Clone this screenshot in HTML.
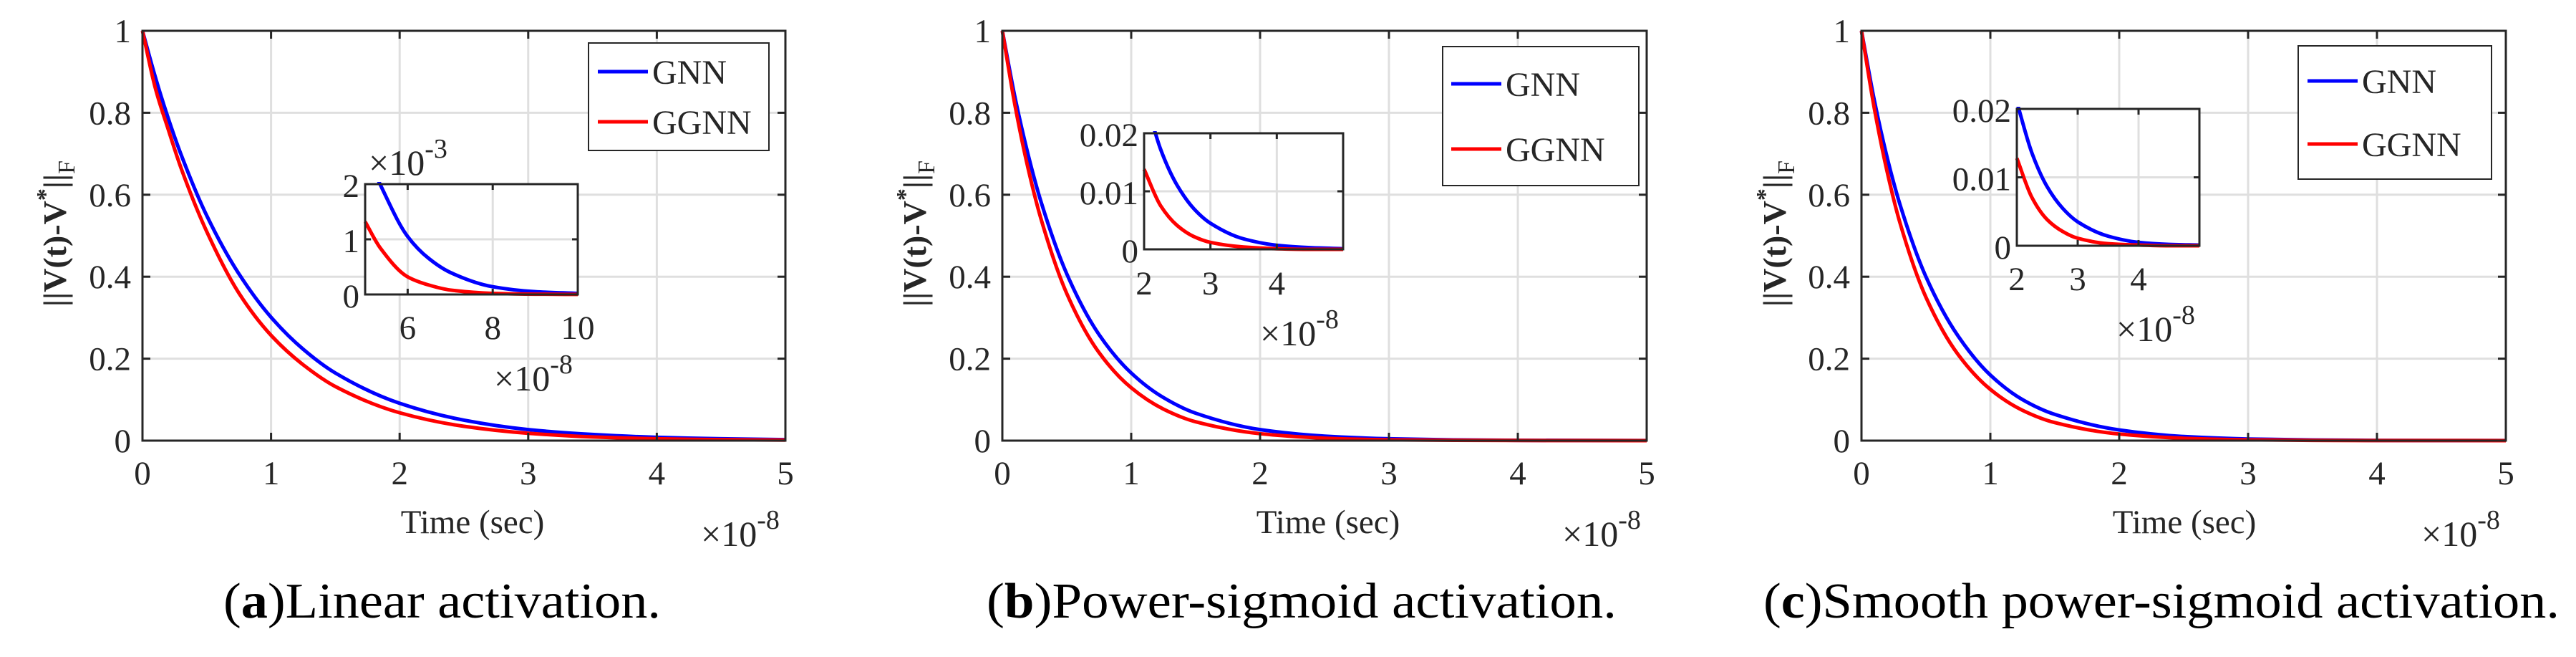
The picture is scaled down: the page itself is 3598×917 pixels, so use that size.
<!DOCTYPE html>
<html><head><meta charset="utf-8"><style>
html,body{margin:0;padding:0;background:#fff;}
svg{display:block;}
text{font-family:"Liberation Serif",serif;fill:#262626;}
</style></head><body>
<svg id="fig" width="3598" height="917" viewBox="0 0 3598 917" xmlns="http://www.w3.org/2000/svg"></svg>
<script>
// ---- data ----
const mainTimes = [0,0.1,0.2,0.3,0.5,0.75,1,1.25,1.5,2,2.5,3,3.5,4,4.5,5];
const aGNN  = [1,.887,.787,.698,.549,.407,.301,.223,.165,.091,.050,.027,.015,.008,.0045,.0025];
const aGGNN = [1,.86,.76,.665,.51,.36,.257,.185,.132,.068,.035,.018,.009,.0046,.0024,.0012];
const bGNN  = [1,.835,.698,.583,.407,.259,.165,.105,.067,.027,.011,.0045,.0018,.0007,.0003,.0001];
const bGGNN = [1,.815,.664,.541,.359,.215,.129,.077,.046,.017,.006,.002,.0008,.0003,.0001,0];
const cGNN  = [1,.83,.69,.575,.40,.255,.16,.10,.064,.026,.010,.004,.0016,.0006,.0002,.0001];
const cGGNN = [1,.81,.655,.53,.35,.21,.125,.074,.044,.016,.0058,.002,.0007,.0002,.0001,0];
const insetATimes = [5,5.35,6,6.5,7,8,9,10];
const insetAGNN  = [2.6,2.0,1.05,0.65,0.40,0.14,0.05,0.02];
const insetAGGNN = [1.32,0.85,0.32,0.17,0.08,0.02,0.005,0.001];
const insetBTimes = [2,2.25,2.5,2.75,3,3.5,4,4.5,5];
const insetBGNN  = [0.027,0.0172,0.011,0.007,0.0045,0.0018,0.0007,0.0003,0.0001];
const insetBGGNN = [0.0138,0.0075,0.0041,0.0022,0.0012,0.0004,0.0001,0,0];
const insetCGNN  = [0.021,0.0135,0.0086,0.0055,0.0035,0.0014,0.0005,0.0002,0.0001];
const insetCGGNN = [0.0128,0.0070,0.0038,0.0021,0.0011,0.0003,0.0001,0,0];
const mainXTicks = [0,1,2,3,4,5];
const mainYTicks = [0,0.2,0.4,0.6,0.8,1];
const mainYLabels = ['0','0.2','0.4','0.6','0.8','1'];
const insetAXTicks = [6,8,10];
const insetAYTicks = [0,1,2];
const insetBXTicks = [2,3,4];
const insetBYTicks = [0,0.01,0.02];
const insetBYLabels = ['0','0.01','0.02'];
const captions = ['Linear activation.','Power-sigmoid activation.','Smooth power-sigmoid activation.'];
const captionLetters = ['a','b','c'];

const NS='http://www.w3.org/2000/svg';
const svg=document.getElementById('fig');
function mk(tag,attrs,parent){const e=document.createElementNS(NS,tag);for(const k in attrs)e.setAttribute(k,attrs[k]);(parent||svg).appendChild(e);return e;}
function scale(d0,d1,r0,r1){return v=>r0+(v-d0)/(d1-d0)*(r1-r0);}
function pathD(xs,ys,sx,sy){
  // monotone cubic (Fritsch-Carlson) in data space
  const n=xs.length, d=[], m=new Array(n);
  for(let i=0;i<n-1;i++) d.push((ys[i+1]-ys[i])/(xs[i+1]-xs[i]));
  m[0]=d[0]; m[n-1]=d[n-2];
  for(let i=1;i<n-1;i++){
    if(d[i-1]*d[i]<=0) m[i]=0;
    else {const h0=xs[i]-xs[i-1],h1=xs[i+1]-xs[i];const w1=2*h1+h0,w2=h1+2*h0;m[i]=(w1+w2)/(w1/d[i-1]+w2/d[i]);}
  }
  let s='M'+sx(xs[0]).toFixed(1)+','+sy(ys[0]).toFixed(1);
  for(let i=0;i<n-1;i++){
    const h=xs[i+1]-xs[i];
    const c1x=xs[i]+h/3,c1y=ys[i]+m[i]*h/3,c2x=xs[i+1]-h/3,c2y=ys[i+1]-m[i+1]*h/3;
    s+=' C'+sx(c1x).toFixed(1)+','+sy(c1y).toFixed(1)+' '+sx(c2x).toFixed(1)+','+sy(c2y).toFixed(1)+' '+sx(xs[i+1]).toFixed(1)+','+sy(ys[i+1]).toFixed(1);
  }
  return s;
}
let clipId=0;
function axesBox(g,L,R,T,B,xt,yt,sx,sy){
  xt.forEach(v=>{const x=sx(v);const l=mk('line',{x1:x,x2:x,y1:T,y2:B,stroke:'#dfdfdf','stroke-width':3},g);
    });
  yt.forEach(v=>{const y=sy(v);const l=mk('line',{x1:L,x2:R,y1:y,y2:y,stroke:'#dfdfdf','stroke-width':3},g);
    });
}
function frame(g,L,R,T,B,xt,yt,sx,sy,tick){
  const r=mk('rect',{x:L,y:T,width:R-L,height:B-T,fill:'none',stroke:'#262626','stroke-width':3},g);
  
  xt.forEach(v=>{const x=sx(v);
    mk('line',{x1:x,x2:x,y1:B,y2:B-tick,stroke:'#262626','stroke-width':3},g);
    mk('line',{x1:x,x2:x,y1:T,y2:T+tick,stroke:'#262626','stroke-width':3},g);});
  yt.forEach(v=>{const y=sy(v);
    mk('line',{x1:L,x2:L+tick,y1:y,y2:y,stroke:'#262626','stroke-width':3},g);
    mk('line',{x1:R,x2:R-tick,y1:y,y2:y,stroke:'#262626','stroke-width':3},g);});
}
function txt(g,x,y,s,size,anchor,name){const t=mk('text',{x:x,y:y,'font-size':size,'text-anchor':anchor||'start'},g);t.textContent=s;
  return t;}
function times10(g,x,y,exp,name){
  const t=mk('text',{x:x,y:y,'font-size':50},g);
  
  const a=mk('tspan',{},t);a.textContent='×10';
  const b=mk('tspan',{dy:-24,'font-size':38},t);b.textContent=exp;
}
function drawLine(g,xs,ys,sx,sy,color,clip,name){
  const p=mk('path',{d:pathD(xs,ys,sx,sy),fill:'none',stroke:color,'stroke-width':5,'stroke-linejoin':'round','clip-path':'url(#'+clip+')'},g);
  
}
function clipRect(L,T,R,B){const id='clip'+(clipId++);const c=mk('clipPath',{id:id});mk('rect',{x:L-3,y:T-3,width:R-L+6,height:B-T+6},c);return id;}

const panels=[
 {off:0,L:199,R:1097,gnn:aGNN,ggnn:aGGNN,
  leg:{x1:822,x2:1074,y1:60,y2:210,g1:100,g2:170,lx:835},
  ins:{L:510,R:807,T:257,B:411,x0:5,x1:10,y0:0,y1:2,times:insetATimes,gnn:insetAGNN,ggnn:insetAGGNN,xt:insetAXTicks,yt:insetAYTicks,yl:insetAYTicks.map(String),tb:473,e8:[690,545],e3:[515,244]},
  ylx:92, xlabel:660},
 {off:1200,L:1400,R:2300,gnn:bGNN,ggnn:bGGNN,
  leg:{x1:2015,x2:2289,y1:65,y2:259,g1:117,g2:208,lx:2027},
  ins:{L:1598,R:1876,T:186,B:348,x0:2,x1:5,y0:0,y1:0.02,times:insetBTimes,gnn:insetBGNN,ggnn:insetBGGNN,xt:insetBXTicks,yt:insetBYTicks,yl:insetBYLabels,tb:411,e8:[1760,482]},
  ylx:1293, xlabel:1855},
 {off:2398,L:2600,R:3500,gnn:cGNN,ggnn:cGGNN,
  leg:{x1:3210,x2:3480,y1:64,y2:250,g1:113,g2:201,lx:3223},
  ins:{L:2817,R:3072,T:152,B:343,x0:2,x1:5,y0:0,y1:0.02,times:insetBTimes,gnn:insetCGNN,ggnn:insetCGGNN,xt:insetBXTicks,yt:insetBYTicks,yl:insetBYLabels,tb:405,e8:[2956,476]},
  ylx:2494, xlabel:3051}
];
const capPos=[[312,923],[1378,2258],[2463,3575]];
const T=43,B=615;
panels.forEach((P,i)=>{
  const g=mk('g',{});
  
  
  const sx=scale(0,5,P.L,P.R), sy=scale(0,1,B,T);
  axesBox(g,P.L,P.R,T,B,mainXTicks,mainYTicks,sx,sy);
  const cid=clipRect(P.L,T,P.R,B);
  drawLine(g,mainTimes,P.gnn,sx,sy,'#0000ff',cid,'gnn-line');
  drawLine(g,mainTimes,P.ggnn,sx,sy,'#ff0000',cid,'ggnn-line');
  frame(g,P.L,P.R,T,B,mainXTicks,mainYTicks,sx,sy,11);
  mainXTicks.forEach(v=>txt(g,sx(v),676,String(v),47,'middle','x-tick-label'));
  mainYTicks.forEach((v,k)=>txt(g,P.L-16,sy(v)+16,mainYLabels[k],47,'end','y-tick-label'));
  txt(g,P.xlabel,744,'Time (sec)',47,'middle','x-axis-title');
  times10(g,P.R-118,762,'-8','x-axis-exponent');
  const yl=mk('text',{x:0,y:0,'font-size':46,'font-weight':'bold','text-anchor':'middle',transform:'translate('+P.ylx+',326) rotate(-90)'},g);
  
  const t1=mk('tspan',{},yl);t1.textContent='||V(t)-V';
  const t2=mk('tspan',{dy:-18,'font-size':34},yl);t2.textContent='*';
  const t3=mk('tspan',{dy:18},yl);t3.textContent='||';
  const t4=mk('tspan',{dy:12,'font-size':34,'font-weight':'normal'},yl);t4.textContent='F';
  const lg=mk('g',{},g);
  
  mk('rect',{x:P.leg.x1,y:P.leg.y1,width:P.leg.x2-P.leg.x1,height:P.leg.y2-P.leg.y1,fill:'#fff',stroke:'#262626','stroke-width':2},lg);
  [['GNN','#0000ff',P.leg.g1],['GGNN','#ff0000',P.leg.g2]].forEach(e=>{
    const eg=mk('g',{},lg);
    
    mk('line',{x1:P.leg.lx,x2:P.leg.lx+70,y1:e[2],y2:e[2],stroke:e[1],'stroke-width':5},eg);
    txt(eg,P.leg.lx+76,e[2]+17,e[0],48,'start','legend-label');
  });
  const I=P.ins;
  const ig=mk('g',{},g);
  
  const ix=scale(I.x0,I.x1,I.L,I.R), iy=scale(I.y0,I.y1,I.B,I.T);
  mk('rect',{x:I.L,y:I.T,width:I.R-I.L,height:I.B-I.T,fill:'#fff'},ig);
  axesBox(ig,I.L,I.R,I.T,I.B,I.xt,I.yt,ix,iy);
  const icid=clipRect(I.L,I.T,I.R,I.B);
  drawLine(ig,I.times,I.gnn,ix,iy,'#0000ff',icid,'inset-gnn-line');
  drawLine(ig,I.times,I.ggnn,ix,iy,'#ff0000',icid,'inset-ggnn-line');
  frame(ig,I.L,I.R,I.T,I.B,I.xt,I.yt,ix,iy,8);
  I.xt.forEach(v=>txt(ig,ix(v),I.tb,String(v),47,'middle','inset-x-tick-label'));
  I.yt.forEach((v,k)=>txt(ig,I.L-8,iy(v)+18,I.yl[k],47,'end','inset-y-tick-label'));
  times10(ig,I.e8[0],I.e8[1],'-8','inset-x-exponent');
  if(I.e3) times10(ig,I.e3[0],I.e3[1],'-3','inset-y-exponent');
  const cp=capPos[i];
  const ct=mk('text',{x:cp[0],y:862,'font-size':70,textLength:cp[1]-cp[0],lengthAdjust:'spacingAndGlyphs',style:'fill:#000'},g);
  
  const c1=mk('tspan',{},ct);c1.textContent='(';
  const c2=mk('tspan',{'font-weight':'bold'},ct);c2.textContent=captionLetters[i];
  const c3=mk('tspan',{},ct);c3.textContent=')'+captions[i];
});
</script>
</body></html>
